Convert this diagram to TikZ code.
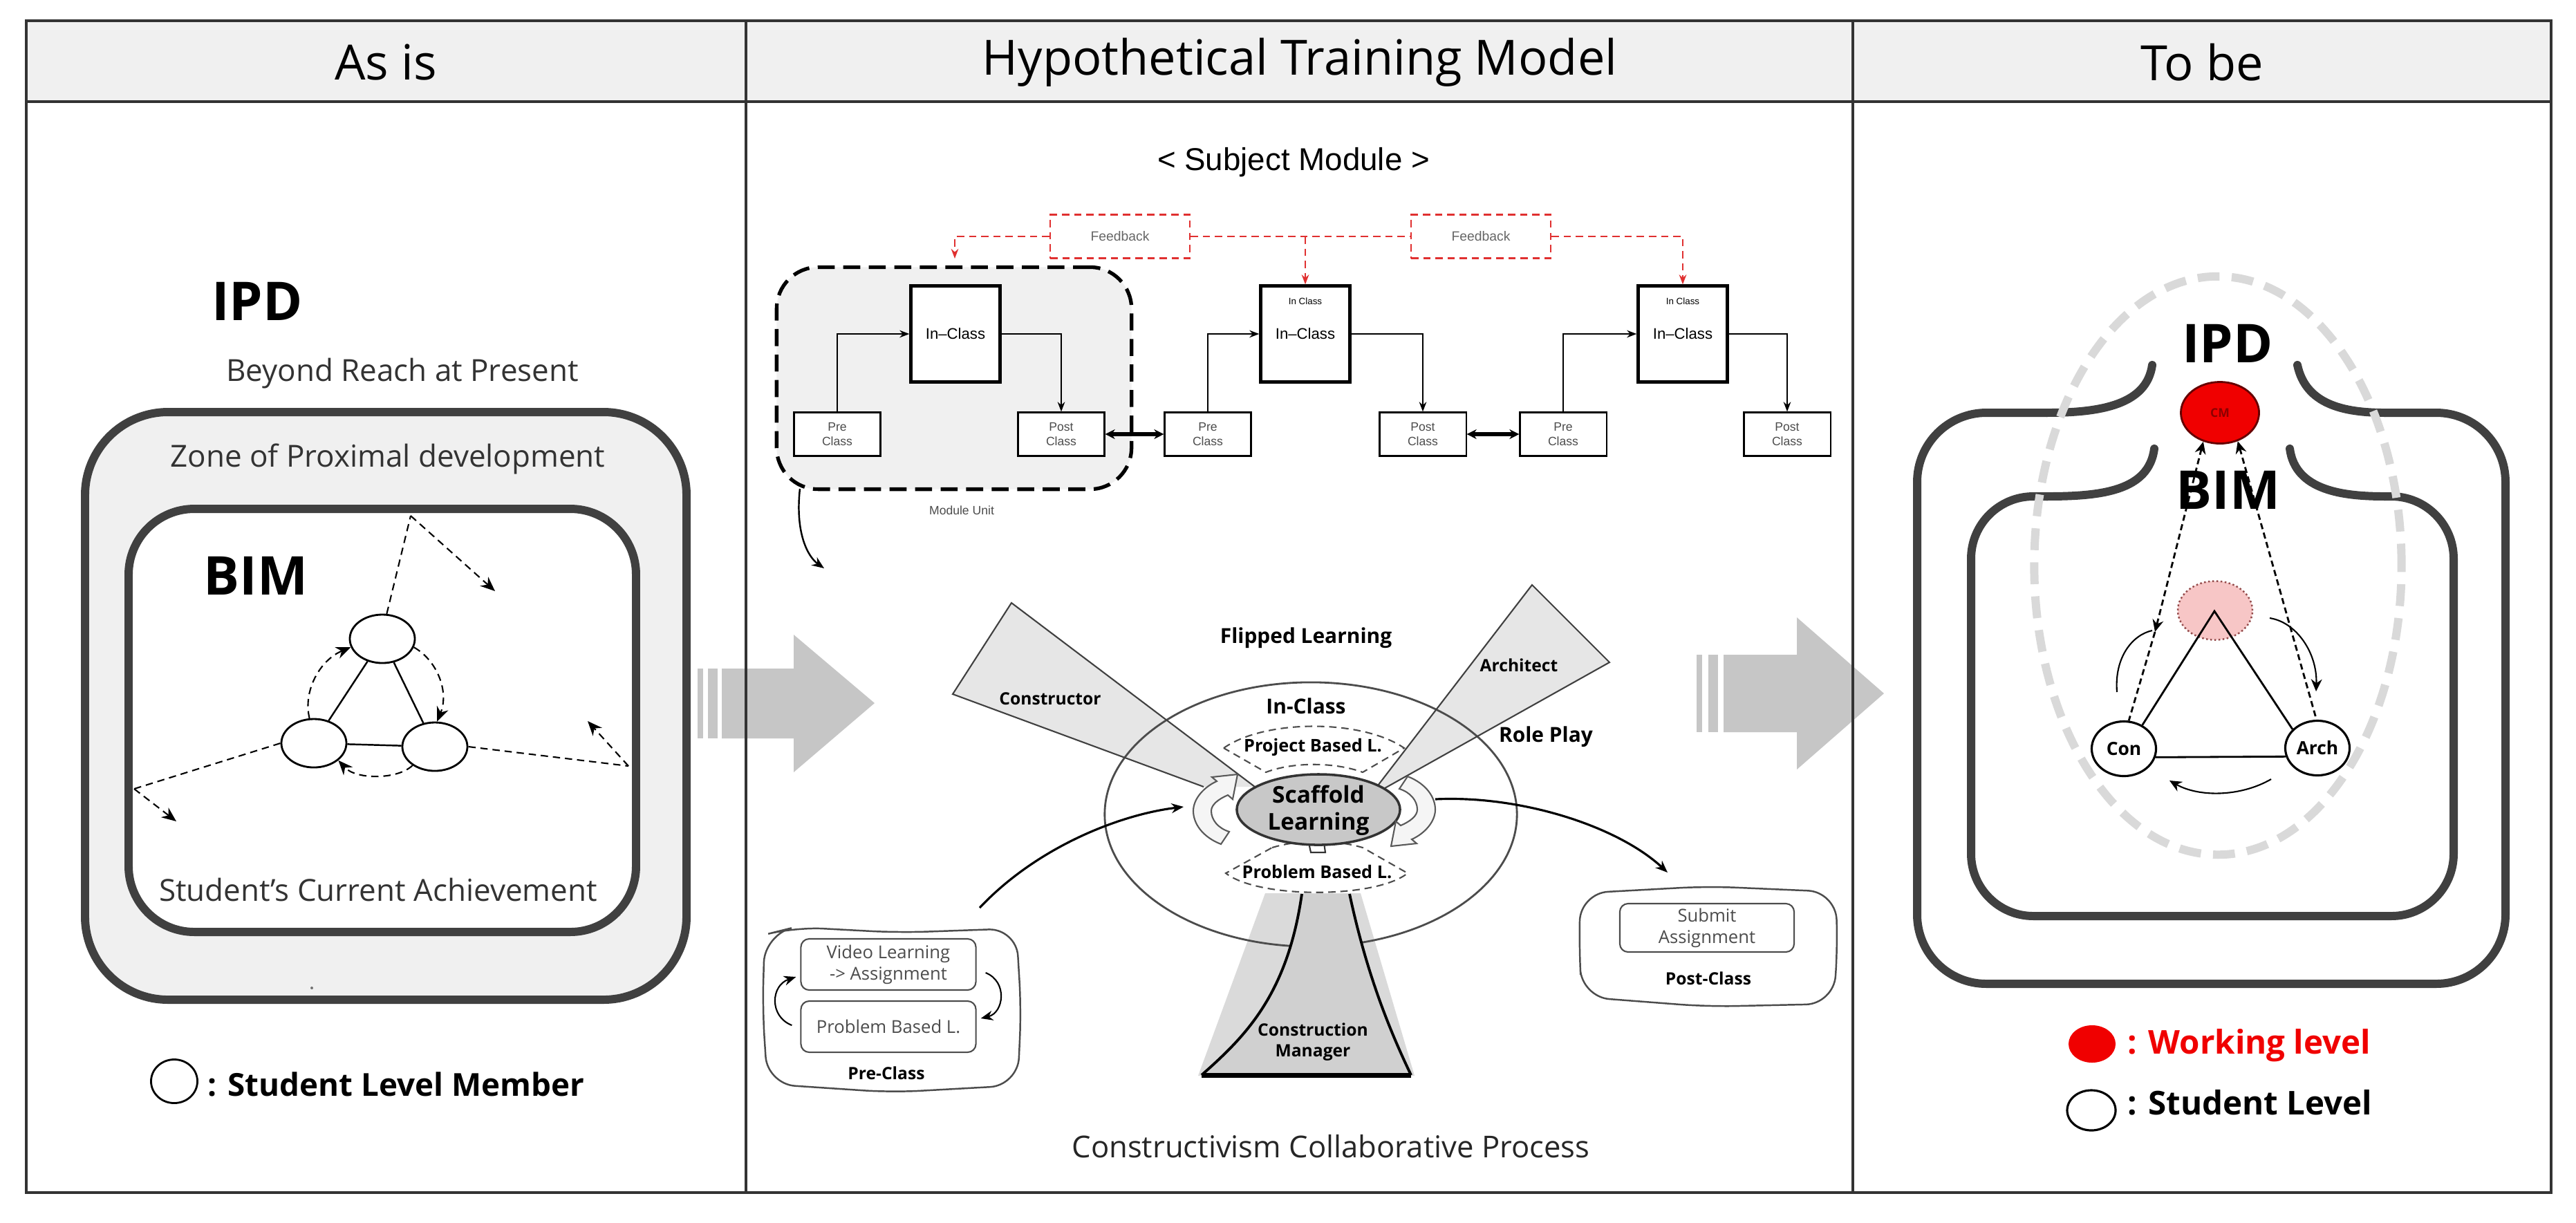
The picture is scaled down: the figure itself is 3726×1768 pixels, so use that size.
\documentclass[tikz,border=0pt]{standalone}
\usepackage{fontspec}
\setmainfont{Open Sans}
\newfontfamily\arialf{Liberation Sans}
\usetikzlibrary{arrows.meta,shapes.geometric,calc}
\definecolor{hdr}{HTML}{F0F0F0}
\definecolor{framec}{HTML}{333333}
\definecolor{boxline}{HTML}{404040}
\definecolor{zonefill}{HTML}{F0F0F0}
\definecolor{arrowgray}{HTML}{C6C6C6}
\definecolor{fbred}{HTML}{E03030}
\definecolor{beam}{HTML}{E6E6E6}
\definecolor{scafc}{HTML}{C8C8C8}
\definecolor{conec}{HTML}{DADADA}
\definecolor{cmfill}{HTML}{D0D0D0}
\definecolor{cmred}{HTML}{F00000}
\definecolor{pinkc}{HTML}{F7C6C6}
\definecolor{ellgray}{HTML}{D9D9D9}
\begin{document}
\begin{tikzpicture}[x=0.01cm,y=-0.01cm,
  >={Stealth[length=5pt,width=4pt]},
  hdrtext/.style={font=\fontsize{20}{24}\selectfont},
  bigbold/.style={font=\bfseries\fontsize{22}{26}\selectfont},
  zonetext/.style={font=\fontsize{12.5}{15}\selectfont, text=black!80},
  legendtext/.style={font=\bfseries\fontsize{13.5}{16}\selectfont, anchor=west, inner sep=0pt},
  member/.style={ellipse, draw, line width=0.8pt, fill=white, inner sep=0pt},
  thickbox/.style={draw=boxline, line width=3.4pt},
  dashcurve/.style={densely dashed, line width=0.6pt, -{Stealth[length=6pt,width=5pt]}},
  dashplain/.style={densely dashed, line width=0.6pt},
  smallbox/.style={draw, line width=0.6pt, fill=white, minimum width=1.25cm, minimum height=0.63cm, inner sep=0pt, align=center, font=\arialf\fontsize{5}{6}\selectfont, text=black!70},
  inbox/.style={draw, line width=1.2pt, fill=white, minimum width=1.29cm, minimum height=1.39cm, inner sep=0pt, font=\arialf\fontsize{6.3}{7}\selectfont},
  fbbox/.style={draw=fbred, densely dashed, line width=0.7pt, fill=white, minimum width=2.02cm, minimum height=0.63cm, inner sep=0pt, font=\arialf\fontsize{5.5}{6}\selectfont, text=black!60},
  fbline/.style={draw=fbred, densely dashed, line width=0.7pt},
  modarrow/.style={line width=0.7pt, -{Stealth[length=4pt,width=3pt]}},
  midbold/.style={font=\bfseries\fontsize{8.5}{10}\selectfont},
  beamtxt/.style={font=\bfseries\fontsize{7}{8.5}\selectfont, align=center},
  bandtxt/.style={font=\bfseries\fontsize{7.2}{8.5}\selectfont},
  innerbox/.style={draw=black!70, line width=0.6pt, fill=white, rounded corners=0.12cm, minimum width=2.53cm, minimum height=0.74cm, inner sep=0pt, align=center, font=\fontsize{7.3}{8.8}\selectfont, text=black!70},
  smallbold/.style={font=\bfseries\fontsize{7}{8.5}\selectfont},
  curvearrow/.style={line width=0.9pt, ->},
  dotline/.style={dash pattern=on 2.5pt off 1.5pt, line width=0.8pt},
  earline/.style={draw=boxline, line width=3.4pt, line cap=round}
]
\useasboundingbox (0,0) rectangle (3726,1768);
\fill[white] (0,0) rectangle (3726,1768);

% ---------- header ----------
\fill[hdr] (38,30) rectangle (3690,147);
\node[hdrtext] (h1) at (558,90) {As is};
\node[hdrtext] (h2) at (1880,90) {Hypothetical Training Model};
\node[hdrtext] (h3) at (3185,90) {To be};

% ---------- big gray arrows ----------
\fill[arrowgray] (1044,967) -- (1148,967) -- (1148,918) -- (1265,1017) -- (1148,1117) -- (1148,1068) -- (1044,1068) -- cycle;
\fill[arrowgray] (1009,967) rectangle (1017,1068);
\fill[arrowgray] (1024,967) rectangle (1038,1068);
\fill[arrowgray] (2493,947) -- (2599,947) -- (2599,893) -- (2725,1003) -- (2599,1113) -- (2599,1059) -- (2493,1059) -- cycle;
\fill[arrowgray] (2454,947) rectangle (2462,1059);
\fill[arrowgray] (2471,947) rectangle (2485,1059);

% ---------- frame ----------
\draw[framec, line width=0.9pt] (38,30) rectangle (3690,1725);
\draw[framec, line width=0.9pt] (38,147) -- (3690,147);
\draw[framec, line width=0.9pt] (1079,30) -- (1079,1725);
\draw[framec, line width=0.9pt] (2680,30) -- (2680,1725);

% ================= LEFT PANEL =================
\node[bigbold] (ipdL) at (372,436) {IPD};
\node[zonetext] (beyond) at (582,540) {Beyond Reach at Present};
\draw[thickbox, fill=zonefill, rounded corners=1.2cm] (123,596) rectangle (993,1446);
\node[zonetext] (zone) at (561,664) {Zone of Proximal development};
\draw[thickbox, fill=white, rounded corners=0.95cm] (186,736) rectangle (920,1348);
\node[bigbold] (bimL) at (370,833) {BIM};
\node[zonetext] (curr) at (547,1287) {Student's Current Achievement};
\fill[black!55] (451,1429) circle (0.02cm);

\node[member, minimum width=0.94cm, minimum height=0.70cm] (mt) at (553,924) {};
\node[member, minimum width=0.94cm, minimum height=0.70cm] (ml) at (454,1075) {};
\node[member, minimum width=0.94cm, minimum height=0.70cm] (mr) at (629,1080) {};
\draw[line width=0.7pt] (mt) -- (ml);
\draw[line width=0.7pt] (mt) -- (mr);
\draw[line width=0.7pt] (ml) -- (mr);
\draw[dashcurve] (ml.100) .. controls (438,1000) and (462,955) .. (mt.195);
\draw[dashcurve] (mt.-15) .. controls (632,955) and (650,1000) .. (mr.85);
\draw[dashcurve] (mr.-140) .. controls (575,1128) and (515,1128) .. (ml.-35);

\coordinate (k1) at (594,746);
\coordinate (k1e) at (716,855);
\coordinate (k2) at (194,1141);
\coordinate (k2e) at (255,1188);
\coordinate (k3) at (909,1108);
\coordinate (k3e) at (850,1043);
\draw[dashplain] (mt.80) -- (k1);
\draw[dashcurve] (k1) -- (k1e);
\draw[dashplain] (ml.west) -- (k2);
\draw[dashcurve] (k2) -- (k2e);
\draw[dashplain] (mr.east) -- (k3);
\draw[dashcurve] (k3) -- (k3e);

\node[member, minimum width=0.67cm, minimum height=0.63cm] (legL) at (252,1564) {};
\node[legendtext, font=\bfseries\fontsize{13}{16}\selectfont] (legLt) at (300,1568) {: Student Level Member};

% ================= MIDDLE PANEL: subject module =================
\node[font=\arialf\fontsize{13}{15}\selectfont] (subj) at (1871,235) {< Subject Module >};
\node[draw, line width=1.5pt, dash pattern=on 7pt off 3.5pt, fill=zonefill, rounded corners=0.6cm, minimum width=5.13cm, minimum height=3.21cm] (mu) at (1380,547) {};
\node[font=\arialf\fontsize{5}{6}\selectfont, text=black!70] (mul) at (1391,738) {Module Unit};

\node[inbox] (ic1) at (1382,483) {In–Class};
\node[inbox] (ic2) at (1888,483) {In–Class};
\node[inbox] (ic3) at (2434,483) {In–Class};
\node[font=\arialf\fontsize{3.8}{4}\selectfont] (ic2s) at (1888,436) {In Class};
\node[font=\arialf\fontsize{3.8}{4}\selectfont] (ic3s) at (2434,436) {In Class};

\node[smallbox] (pre1) at (1211,628) {Pre\\Class};
\node[smallbox] (post1) at (1535,628) {Post\\Class};
\node[smallbox] (pre2) at (1747,628) {Pre\\Class};
\node[smallbox] (post2) at (2058,628) {Post\\Class};
\node[smallbox] (pre3) at (2261,628) {Pre\\Class};
\node[smallbox] (post3) at (2585,628) {Post\\Class};

\draw[modarrow] (pre1.north) |- (ic1.west);
\draw[modarrow] (ic1.east) -| (post1.north);
\draw[modarrow] (pre2.north) |- (ic2.west);
\draw[modarrow] (ic2.east) -| (post2.north);
\draw[modarrow] (pre3.north) |- (ic3.west);
\draw[modarrow] (ic3.east) -| (post3.north);
\draw[line width=1.8pt, {Stealth[length=4pt,width=4pt]}-{Stealth[length=4pt,width=4pt]}] (post1.east) -- (pre2.west);
\draw[line width=1.8pt, {Stealth[length=4pt,width=4pt]}-{Stealth[length=4pt,width=4pt]}] (post2.east) -- (pre3.west);

\node[fbbox] (fb1) at (1620,342) {Feedback};
\node[fbbox] (fb2) at (2142,342) {Feedback};
\coordinate (fbL) at (1381,374);
\draw[fbline, -{Stealth[length=4pt,width=3pt]}, fbred] (fb1.west) -| (fbL);
\draw[fbline] (fb1.east) -- (fb2.west);
\draw[fbline, -{Stealth[length=4pt,width=3pt]}, fbred] (fb1.east -| ic2.north) -- (ic2.north);
\draw[fbline, -{Stealth[length=4pt,width=3pt]}, fbred] (fb2.east) -| (ic3.north);

\coordinate (muA) at (1157,707);
\coordinate (muB) at (1192,822);
\draw[line width=0.7pt, ->] (muA) .. controls (1150,770) and (1168,805) .. (muB);

% ================= MIDDLE PANEL: constructivism =================
\fill[conec] (1830,1292) -- (1968,1292) -- (2046,1556) -- (1733,1556) -- cycle;
\fill[beam] (1463,872) -- (1378,1004) -- (1741,1138) -- (1815,1138) -- cycle;
\fill[beam] (2216,846) -- (2328,958) -- (2003,1140) -- (1990,1140) -- cycle;
\node[ellipse, draw=black!70, line width=0.8pt, minimum width=5.96cm, minimum height=3.82cm] (bigc) at (1896,1178) {};
\draw[black!75, line width=0.6pt] (1741,1138) -- (1378,1004) -- (1463,872) -- (1815,1138);
\draw[black!75, line width=0.6pt] (1990,1140) -- (2216,846) -- (2328,958) -- (2003,1140);

\fill[cmfill] (1883,1293) .. controls (1862,1440) and (1800,1500) .. (1738,1555) -- (2041,1555) .. controls (2005,1480) and (1975,1400) .. (1952,1293) -- cycle;
\draw[line width=1.1pt] (1883,1293) .. controls (1862,1440) and (1800,1500) .. (1738,1555);
\draw[line width=1.1pt] (1952,1293) .. controls (1975,1400) and (2005,1480) .. (2041,1555);
\draw[line width=2pt] (1738,1555) -- (2041,1555);

\draw[black!70, densely dashed, line width=0.6pt, fill=white] (1770,1082) .. controls (1830,1040) and (1970,1040) .. (2031,1082) -- (1971,1117) .. controls (1930,1102) and (1870,1102) .. (1831,1117) -- cycle;
\draw[black!70, densely dashed, line width=0.6pt, fill=white] (1840,1226) .. controls (1880,1214) and (1930,1214) .. (1971,1226) -- (2036,1263) .. controls (1990,1300) and (1820,1300) .. (1773,1263) -- cycle;
\node[bandtxt] (projb) at (1899,1081) {Project Based L.};
\node[bandtxt] (probb) at (1905,1261) {Problem Based L.};

\draw[black!80, line width=0.6pt] (1893,1219) -- (1896,1233) -- (1917,1233) -- (1915,1219);
\node[ellipse, draw=black!80, line width=1pt, fill=scafc, minimum width=2.36cm, minimum height=1.02cm, inner sep=0pt] (scaf) at (1907,1171) {};
\node[font=\bfseries\fontsize{9.5}{11}\selectfont, align=center] (scaft) at (1907,1172) {Scaffold\\Learning};

\draw[black!65, line width=0.6pt, fill=black!4] (1766,1221) .. controls (1738,1210) and (1726,1190) .. (1726,1173) .. controls (1726,1155) and (1742,1138) .. (1760,1130) -- (1753,1124) -- (1790,1120) -- (1783,1156) -- (1776,1150) .. controls (1762,1156) and (1752,1164) .. (1752,1173) .. controls (1752,1186) and (1762,1198) .. (1778,1203) -- cycle;
\begin{scope}[rotate around={180:(1901,1172)}]
\draw[black!65, line width=0.6pt, fill=black!4] (1766,1221) .. controls (1738,1210) and (1726,1190) .. (1726,1173) .. controls (1726,1155) and (1742,1138) .. (1760,1130) -- (1753,1124) -- (1790,1120) -- (1783,1156) -- (1776,1150) .. controls (1762,1156) and (1752,1164) .. (1752,1173) .. controls (1752,1186) and (1762,1198) .. (1778,1203) -- cycle;
\end{scope}

\node[midbold] (flip) at (1889,923) {Flipped Learning};
\node[midbold] (incl) at (1889,1021) {In-Class};
\node[midbold] (role) at (2236,1066) {Role Play};
\node[beamtxt] (constr) at (1519,1011) {Constructor};
\node[beamtxt] (archt) at (2197,962) {Architect};
\node[beamtxt] (cmt) at (1899,1507) {Construction\\Manager};

% Pre-Class box
\draw[black!70, line width=0.7pt, rounded corners=0.4cm] (1106,1352) -- (1150,1341) -- (1300,1349) -- (1470,1343) -- (1477,1460) -- (1472,1570) -- (1290,1580) -- (1110,1568) -- (1103,1460) -- cycle;
\node[innerbox] (vl) at (1285,1395) {Video Learning\\-> Assignment};
\node[innerbox] (pbl) at (1285,1485) {Problem Based L.};
\node[smallbold] (prel) at (1282,1552) {Pre-Class};
\draw[line width=0.6pt, ->] ($(pbl.west)+(-12,-2)$) .. controls (1112,1470) and (1115,1425) .. ($(vl.west)+(-6,18)$);
\draw[line width=0.6pt, ->] ($(vl.east)+(13,12)$) .. controls (1458,1420) and (1452,1465) .. ($(pbl.east)+(6,-12)$);

% Post-Class box
\draw[black!70, line width=0.7pt, rounded corners=0.4cm] (2286,1292) -- (2470,1282) -- (2655,1290) -- (2658,1370) -- (2652,1452) -- (2470,1456) -- (2288,1442) -- (2284,1370) -- cycle;
\node[innerbox, minimum width=2.52cm, minimum height=0.70cm] (sub) at (2469,1342) {Submit\\Assignment};
\node[smallbold] (postl) at (2471,1415) {Post-Class};

\coordinate (preTop) at (1417,1313);
\coordinate (scafIn) at (1712,1167);
\coordinate (scafOut) at (2076,1156);
\coordinate (postIn) at (2412,1262);
\draw[curvearrow] (preTop) .. controls (1500,1225) and (1620,1178) .. (scafIn);
\draw[curvearrow] (scafOut) .. controls (2200,1150) and (2340,1195) .. (postIn);

\node[font=\fontsize{12.4}{15}\selectfont, text=black!85] (ccp) at (1925,1658) {Constructivism Collaborative Process};

% ================= RIGHT PANEL =================
\draw[boxline, line width=3.4pt, rounded corners=1cm] (2962,597) -- (2773,597) -- (2773,1423) -- (3624,1423) -- (3624,597) -- (3448,597);
\draw[earline] (3113,528) .. controls (3105,585) and (3040,597) .. (2960,597);
\draw[earline] (3450,597) .. controls (3390,597) and (3335,585) .. (3323,528);
\draw[boxline, line width=3.4pt, rounded corners=0.9cm] (2962,718) -- (2851,718) -- (2851,1325) -- (3549,1325) -- (3549,718) -- (3448,718);
\draw[earline] (3116,649) .. controls (3108,710) and (3040,718) .. (2960,718);
\draw[earline] (3450,718) .. controls (3390,718) and (3320,710) .. (3312,649);
\node[ellipse, draw=ellgray, line width=3.4pt, dash pattern=on 9pt off 5pt, minimum width=5.31cm, minimum height=8.36cm] (dashE) at (3208,818) {};

\node[bigbold] (ipdR) at (3222,497) {IPD};
\node[bigbold] (bimR) at (3223,709) {BIM};
\node[ellipse, draw=black!60!red, line width=0.8pt, fill=cmred, minimum width=1.13cm, minimum height=0.89cm, inner sep=0pt, font=\bfseries\fontsize{5}{6}\selectfont, text=black!45!red] (cm) at (3211,597) {CM};
\node[ellipse, draw=red!40!black!70, densely dotted, line width=0.7pt, fill=pinkc, minimum width=1.08cm, minimum height=0.85cm] (pink) at (3204,883) {};
\coordinate (apex) at (3203,884);
\node[member, line width=0.9pt, minimum width=0.93cm, minimum height=0.79cm, font=\bfseries\fontsize{7.5}{8}\selectfont] (con) at (3072,1083) {Con};
\node[member, line width=0.9pt, minimum width=0.93cm, minimum height=0.79cm, font=\bfseries\fontsize{7.5}{8}\selectfont] (arch) at (3352,1082) {Arch};
\draw[line width=0.8pt] (con.52) -- (apex) -- (arch.143);
\draw[line width=0.8pt] (con.-15) -- (arch.195);

\coordinate (lp) at (3117,914);
\draw[dotline, {Stealth[length=5pt,width=4.5pt]}-{Stealth[length=5pt,width=4.5pt]}] (cm.-120) -- (lp);
\draw[dotline] (lp) -- (con.80);
\draw[dotline, {Stealth[length=5pt,width=4.5pt]}-] (cm.-58) -- (arch.92);

\coordinate (la1) at (3062,1001);
\coordinate (la2) at (3113,912);
\coordinate (ra1) at (3283,894);
\coordinate (ra2) at (3350,1000);
\coordinate (ba1) at (3285,1127);
\coordinate (ba2) at (3138,1129);
\draw[line width=0.6pt] (la1) .. controls (3058,950) and (3085,918) .. (la2);
\draw[line width=0.6pt, -{Stealth[length=5pt,width=4.5pt]}] (ra1) .. controls (3322,900) and (3352,945) .. (ra2);
\draw[line width=0.6pt, -{Stealth[length=5pt,width=4.5pt]}] (ba1) .. controls (3240,1153) and (3180,1153) .. (ba2);

\node[ellipse, fill=cmred, minimum width=0.68cm, minimum height=0.54cm, inner sep=0pt] (legR1) at (3026,1510) {};
\node[legendtext, text=cmred] (legR1t) at (3077,1512) {: Working level};
\node[member, line width=0.9pt, minimum width=0.70cm, minimum height=0.58cm] (legR2) at (3025,1606) {};
\node[legendtext] (legR2t) at (3077,1595) {: Student Level};
\end{tikzpicture}
\end{document}
